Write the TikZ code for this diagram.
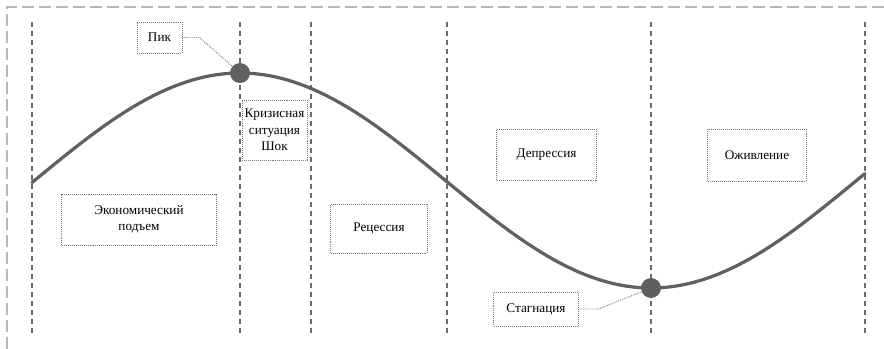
\documentclass[tikz,border=0pt]{standalone}
\usepackage{fontspec}
\setmainfont{Liberation Serif}
\usetikzlibrary{positioning}
\definecolor{curvegray}{HTML}{606060}
\definecolor{framegray}{HTML}{B8B8B8}
\definecolor{linegray}{HTML}{6A6A6A}
\definecolor{boxgray}{HTML}{777777}
\begin{document}
\begin{tikzpicture}[x=0.025cm, y=-0.025cm,
    every node/.style={font=\fontsize{9.4}{11.7}\selectfont, text=black},
    phasebox/.style={draw=boxgray, line width=0.7pt, dash pattern=on 0.6pt off 0.8pt, align=center, inner sep=0pt},
    phaseline/.style={draw=linegray, line width=0.75pt, dash pattern=on 0.125cm off 0.1cm},
    pointdot/.style={circle, fill=curvegray, inner sep=0pt, minimum size=0.5cm},
    callout/.style={draw=boxgray, line width=0.7pt, dash pattern=on 0.6pt off 0.8pt}]
    \useasboundingbox (0,0) rectangle (884,349);

    % frame
    \draw[framegray, line width=1pt, dash pattern=on 0.3cm off 0.125cm] (7,349) -- (7,7) -- (884,7);

    % phase borders
    \foreach \xpos in {32, 240, 311, 447, 651, 865}
        \draw[phaseline] (\xpos,22) -- (\xpos,333);

    % business cycle
    \draw[curvegray, line width=2.3pt, line cap=round] plot[domain=32:865, samples=120, smooth]
        (\x, {180.5-107.5*cos(0.437956*(\x-240))});

    \node[pointdot] (peak) at (240,73) {};
    \node[pointdot] (trough) at (651,288) {};

    \node[phasebox, minimum width=1.125cm, minimum height=0.775cm] (pik) at (159.5,37.5) {Пик};
    \node[phasebox, minimum width=1.625cm, minimum height=1.5cm] (shock) at (274.5,130) {Кризисная\\ситуация\\Шок};
    \node[phasebox, minimum width=3.85cm, minimum height=1.275cm] (boom) at (139,219.5) {Экономический\\подъем};
    \node[phasebox, minimum width=2.4cm, minimum height=1.225cm] (recession) at (379,228.5) {Рецессия};
    \node[phasebox, minimum width=2.475cm, minimum height=1.275cm] (depression) at (546.5,154.5) {Депрессия};
    \node[phasebox, minimum width=2.45cm, minimum height=1.3cm] (revival) at (757,155) {Оживление};
    \node[phasebox, minimum width=2.1cm, minimum height=0.85cm] (stagnation) at (536,309) {Стагнация};

    \draw[callout] (pik.east) -- ++(17,0) -- (peak);
    \draw[callout] (stagnation.east) -- ++(20,0) -- (trough);
\end{tikzpicture}
\end{document}
